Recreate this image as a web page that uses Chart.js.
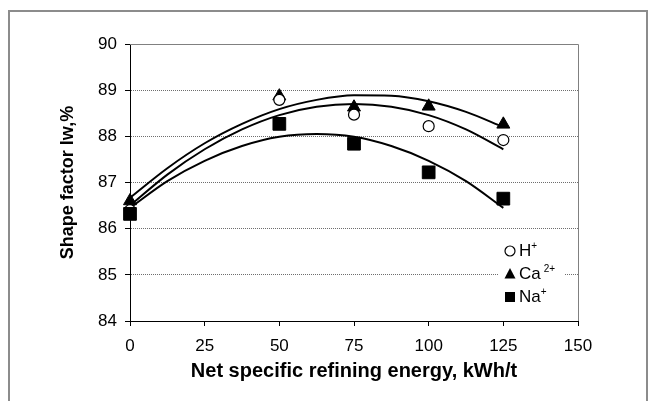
<!DOCTYPE html>
<html>
<head>
<meta charset="utf-8">
<script src="https://cdn.jsdelivr.net/npm/chart.js@4/dist/chart.umd.min.js"></script>
<style>
  html, body { margin: 0; padding: 0; background: #fff; }
</style>
</head>
<body>
<canvas id="shapeChart" width="659" height="401"></canvas>
<script>
// measured points
const energy = [0, 50, 75, 100, 125];
const shapeH = [86.4, 88.79, 88.47, 88.22, 87.92];
const shapeCa = [86.6, 88.87, 88.63, 88.65, 88.26];
const shapeNa = [86.32, 88.27, 87.84, 87.22, 86.65];

// trend curves
const trendX = [0, 12.5, 25, 37.5, 50, 62.5, 75, 87.5, 100, 112.5, 125];
const trendCa = [86.67, 87.31, 87.85, 88.27, 88.59, 88.79, 88.89, 88.88, 88.76, 88.53, 88.20];
const trendH = [86.50, 87.17, 87.72, 88.15, 88.46, 88.64, 88.70, 88.64, 88.46, 88.15, 87.72];
const trendNa = [86.45, 87.03, 87.47, 87.79, 87.99, 88.05, 87.99, 87.79, 87.47, 87.03, 86.45];

const yTicks = [84, 85, 86, 87, 88, 89, 90];

const FONT = '"Liberation Sans", Arial, sans-serif';

function pts(xs, ys) {
    return xs.map((x, i) => ({ x: x, y: ys[i] }));
}

function trend(ys) {
    return {
        data: pts(trendX, ys),
        showLine: true,
        pointRadius: 0,
        borderColor: '#000',
        borderWidth: 2,
        cubicInterpolationMode: 'monotone',
        order: 10
    };
}

// outer frame, plot border and the legend in the plot
const extras = {
    id: 'extras',
    afterDraw(chart) {
        const ctx = chart.ctx;
        const a = chart.chartArea;
        ctx.save();
        ctx.strokeStyle = '#8c8c8c';
        ctx.lineWidth = 2;
        ctx.strokeRect(9, 11, 638, 420);

        ctx.strokeStyle = '#808080';
        ctx.lineWidth = 1;
        ctx.beginPath();
        ctx.moveTo(a.left, a.top + 0.5);
        ctx.lineTo(a.right + 0.5, a.top + 0.5);
        ctx.lineTo(a.right + 0.5, a.bottom);
        ctx.stroke();

        // legend
        ctx.fillStyle = '#fff';
        ctx.fillRect(498, 238, 67, 70);
        const rows = [
            { base: 'H', sup: '+', gap: 0, y: 251 },
            { base: 'Ca', sup: '2+', gap: 3, y: 274 },
            { base: 'Na', sup: '+', gap: 0, y: 297 }
        ];
        const mx = 510;
        ctx.fillStyle = '#000';
        ctx.strokeStyle = '#000';
        ctx.lineWidth = 1.2;
        // circle
        ctx.beginPath();
        ctx.arc(mx, rows[0].y, 5, 0, Math.PI * 2);
        ctx.fillStyle = '#fff';
        ctx.fill();
        ctx.stroke();
        ctx.fillStyle = '#000';
        // triangle
        ctx.beginPath();
        ctx.moveTo(mx, rows[1].y - 6);
        ctx.lineTo(mx + 5.5, rows[1].y + 4.5);
        ctx.lineTo(mx - 5.5, rows[1].y + 4.5);
        ctx.closePath();
        ctx.fill();
        // square
        ctx.fillRect(mx - 5, rows[2].y - 5, 10, 10);

        ctx.textBaseline = 'middle';
        ctx.textAlign = 'left';
        rows.forEach(r => {
            ctx.font = '17px ' + FONT;
            ctx.fillText(r.base, 519, r.y);
            const w = ctx.measureText(r.base).width;
            ctx.font = '10px ' + FONT;
            ctx.fillText(r.sup, 519 + w + r.gap, r.y - 5);
        });
        ctx.restore();
    }
};

new Chart(document.getElementById('shapeChart').getContext('2d'), {
    type: 'scatter',
    data: {
        datasets: [
            {
                label: 'H+',
                data: pts(energy, shapeH),
                pointStyle: 'circle',
                pointRadius: 5.5,
                backgroundColor: '#fff',
                borderColor: '#000',
                borderWidth: 1.2,
                clip: false,
                order: 2
            },
            {
                label: 'Ca2+',
                data: pts(energy, shapeCa),
                pointStyle: 'triangle',
                pointRadius: 7.5,
                backgroundColor: '#000',
                borderColor: '#000',
                borderWidth: 1,
                clip: false,
                order: 3
            },
            {
                label: 'Na+',
                data: pts(energy, shapeNa),
                pointStyle: 'rect',
                pointRadius: 9,
                backgroundColor: '#000',
                borderColor: '#000',
                borderWidth: 1,
                clip: false,
                order: 1
            },
            trend(trendCa),
            trend(trendH),
            trend(trendNa)
        ]
    },
    options: {
        responsive: false,
        animation: false,
        layout: { padding: { left: 0, top: 44, right: 81, bottom: 0 } },
        plugins: {
            legend: { display: false },
            tooltip: { enabled: false }
        },
        scales: {
            x: {
                type: 'linear',
                min: 0,
                max: 150,
                ticks: { stepSize: 25, color: '#000', font: { family: FONT, size: 17 }, padding: 10, maxRotation: 0 },
                grid: { drawOnChartArea: false, tickLength: 5, tickColor: '#000' },
                border: { color: '#000', width: 1 },
                title: {
                    display: true,
                    text: 'Net specific refining energy, kWh/t',
                    color: '#000',
                    font: { family: FONT, size: 20, weight: 'bold' },
                    padding: { top: 0, bottom: 18 }
                },
                afterFit: s => { s.height = 80; }
            },
            y: {
                min: 84,
                max: 90,
                afterBuildTicks: s => { s.ticks = yTicks.map(v => ({ value: v })); },
                ticks: { color: '#000', font: { family: FONT, size: 17 }, padding: 8 },
                grid: {
                    color: c => (c.tick && (c.tick.value === 84 || c.tick.value === 90)) ? 'rgba(0,0,0,0)' : '#6e6e6e',
                    lineWidth: 1,
                    tickLength: 5,
                    tickColor: '#000'
                },
                border: { color: '#000', width: 1, dash: [1, 1] },
                title: {
                    display: true,
                    text: 'Shape factor lw,%',
                    color: '#000',
                    font: { family: FONT, size: 18, weight: 'bold' },
                    padding: { top: 57, bottom: 0 }
                },
                afterFit: s => { s.width = 130; }
            }
        }
    },
    plugins: [extras]
});
</script>
</body>
</html>
